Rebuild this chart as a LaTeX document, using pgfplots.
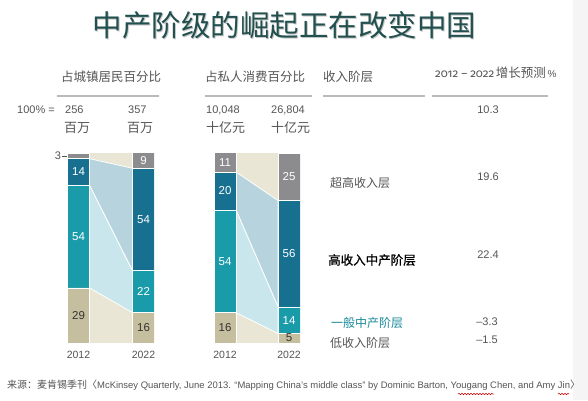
\documentclass[border=0pt]{standalone}
\usepackage{pgfplots}
\pgfplotsset{compat=1.18}
\usepackage{fontspec}
\setmainfont{Liberation Sans}
\newfontfamily\cjk{Noto Sans CJK SC}
\newfontfamily\cjkb[FakeBold=0.6]{Noto Sans CJK SC}
\newfontfamily\osf[Numbers=OldStyle]{Fira Sans}
\usetikzlibrary{decorations.pathmorphing}
\definecolor{caff}{HTML}{8C8C8E}
\definecolor{cupp}{HTML}{17708F}
\definecolor{cmid}{HTML}{1A9BAA}
\definecolor{clow}{HTML}{C6BF9F}
\definecolor{cbg}{HTML}{E9E6D6}
\definecolor{bupp}{HTML}{B7D3DE}
\definecolor{bmid}{HTML}{C9E6EC}
\definecolor{ctitle}{HTML}{22504F}
\definecolor{ctxt}{HTML}{555555}
\definecolor{crule}{HTML}{BBBBBB}
\definecolor{cteal}{HTML}{1A8A9A}
\newcommand\fs[1]{\fontsize{#1}{#1}\selectfont}
\pgfplotsset{
  panel/.style={anchor=south west, scale only axis, height=190pt, ymin=0, ymax=100,
    axis lines=none, enlargelimits=false, clip=true},
  wlab/.style={draw=none, mark=none, nodes near coords, point meta=explicit symbolic,
    every node near coord/.append style={anchor=center, font=\fs{11.5}, text=white}},
  klab/.style={draw=none, mark=none, nodes near coords, point meta=explicit symbolic,
    every node near coord/.append style={anchor=center, font=\fs{11.5}, text=black!80}},
}
\begin{document}
\begin{tikzpicture}[x=1pt,y=1pt]
\path[use as bounding box, fill=white] (0pt,0pt) rectangle (588pt,400pt);
\fill[black!4] (573pt,0pt) rectangle (588pt,400pt);

% ---------- left panel: backgrounds and bands
\begin{axis}[panel, at={(67pt,57pt)}, width=87pt, xmin=67, xmax=154]
\addplot[fill=cbg, draw=none] coordinates {(67,100)(154,100)} \closedcycle;
\addplot[fill=bupp, draw=white, line width=0.8pt] coordinates {(89.5,97)(132.5,92)(132.5,38)(89.5,83)(89.5,97)};
\addplot[fill=bmid, draw=white, line width=0.8pt] coordinates {(89.5,83)(132.5,38)(132.5,16)(89.5,29)(89.5,83)};
\end{axis}
% ---------- left panel: bars
\begin{axis}[panel, at={(67pt,57pt)}, width=87pt, xmin=67, xmax=154, ybar stacked, bar width=22pt]
\addplot[fill=clow, draw=white, line width=0.8pt] coordinates {(78.5,29)(143.5,16)};
\addplot[fill=cmid, draw=white, line width=0.8pt] coordinates {(78.5,54)(143.5,22)};
\addplot[fill=cupp, draw=white, line width=0.8pt] coordinates {(78.5,14)(143.5,54)};
\addplot[fill=caff, draw=white, line width=0.8pt] coordinates {(78.5,3)(143.5,9)};
\end{axis}
% ---------- left panel: segment labels
\begin{axis}[panel, at={(67pt,57pt)}, width=87pt, xmin=67, xmax=154]
\addplot[wlab] coordinates {(78.5,90)[14] (78.5,56)[54] (143.5,96)[9] (143.5,65)[54] (143.5,27)[22]};
\addplot[klab] coordinates {(78.5,14.5)[29] (143.5,8)[16]};
\end{axis}

% ---------- right panel: backgrounds and bands
\begin{axis}[panel, at={(214pt,57pt)}, width=86pt, xmin=214, xmax=300]
\addplot[fill=cbg, draw=none] coordinates {(214,100)(300,100)} \closedcycle;
\addplot[fill=bupp, draw=white, line width=0.8pt] coordinates {(236,90)(278,75)(278,19)(236,70)(236,90)};
\addplot[fill=bmid, draw=white, line width=0.8pt] coordinates {(236,70)(278,19)(278,5)(236,16)(236,70)};
\end{axis}
% ---------- right panel: bars
\begin{axis}[panel, at={(214pt,57pt)}, width=86pt, xmin=214, xmax=300, ybar stacked, bar width=22pt]
\addplot[fill=clow, draw=white, line width=0.8pt] coordinates {(225,16)(289,5)};
\addplot[fill=cmid, draw=white, line width=0.8pt] coordinates {(225,54)(289,14)};
\addplot[fill=cupp, draw=white, line width=0.8pt] coordinates {(225,20)(289,56)};
\addplot[fill=caff, draw=white, line width=0.8pt] coordinates {(225,11)(289,25)};
\end{axis}
% ---------- right panel: segment labels
\begin{axis}[panel, at={(214pt,57pt)}, width=86pt, xmin=214, xmax=300]
\addplot[wlab] coordinates {(225,95)[11] (225,80)[20] (225,43)[54] (289,87.5)[25] (289,47)[56] (289,12)[14]};
\addplot[klab] coordinates {(225,8)[16] (289,2.6)[5]};
\end{axis}

% ---------- title
\node[text=black!22, font=\cjk\fs{29.5}] at (285.5pt,374pt) {中产阶级的崛起正在改变中国};
\node[text=ctitle, font=\cjk\fs{29.5}] at (284.5pt,375pt) {中产阶级的崛起正在改变中国};

% ---------- column headers
\node[text=ctxt, font=\cjk\fs{12.5}] at (111pt,323pt) {占城镇居民百分比};
\node[text=ctxt, font=\cjk\fs{12.5}] at (255pt,323pt) {占私人消费百分比};
\node[text=ctxt, font=\cjk\fs{12.5}, anchor=west, inner sep=0pt] at (323pt,323pt) {收入阶层};
\node[text=ctxt, anchor=west, inner sep=0pt] at (435pt,327pt) {{\osf\fs{11.5}2012 – 2022}\,{\cjk\fs{12.5}增长预测}\,{\fs{10}\%}};
\draw[crule, line width=1.5pt] (57pt,304pt) -- (159pt,304pt);
\draw[crule, line width=1.5pt] (205pt,304pt) -- (312pt,304pt);
\draw[crule, line width=1.5pt] (323pt,304pt) -- (425pt,304pt);
\draw[crule, line width=1.5pt] (432pt,304pt) -- (548pt,304pt);

% ---------- totals
\node[text=ctxt, font=\fs{11}, anchor=east, inner sep=0pt] at (55pt,290pt) {100\% =};
\node[text=ctxt, font=\fs{11}, anchor=west, inner sep=0pt] at (65pt,290pt) {256};
\node[text=ctxt, font=\fs{11}, anchor=west, inner sep=0pt] at (128pt,290pt) {357};
\node[text=ctxt, font=\fs{11}, anchor=west, inner sep=0pt] at (206pt,290pt) {10,048};
\node[text=ctxt, font=\fs{11}, anchor=west, inner sep=0pt] at (271pt,290pt) {26,804};
\node[text=ctxt, font=\cjk\fs{13}, anchor=west, inner sep=0pt] at (64pt,272pt) {百万};
\node[text=ctxt, font=\cjk\fs{13}, anchor=west, inner sep=0pt] at (127pt,272pt) {百万};
\node[text=ctxt, font=\cjk\fs{13}, anchor=west, inner sep=0pt] at (206pt,272pt) {十亿元};
\node[text=ctxt, font=\cjk\fs{13}, anchor=west, inner sep=0pt] at (271pt,272pt) {十亿元};
\node[text=ctxt, font=\fs{11}] at (488pt,290pt) {10.3};

% ---------- segment names and growth
\node[text=ctxt, font=\cjk\fs{12}, anchor=west, inner sep=0pt] at (330pt,217pt) {超高收入层};
\node[text=ctxt, font=\fs{11}] at (488pt,223pt) {19.6};
\node[text=black, font=\cjkb\fs{12.5}, anchor=west, inner sep=0pt] at (328pt,140pt) {高收入中产阶层};
\node[text=ctxt, font=\fs{11}] at (488pt,145pt) {22.4};
\node[text=cteal, font=\cjk\fs{12}, anchor=west, inner sep=0pt] at (331pt,77pt) {一般中产阶层};
\node[text=ctxt, font=\fs{11}] at (487pt,78pt) {–3.3};
\node[text=ctxt, font=\cjk\fs{12}, anchor=west, inner sep=0pt] at (330pt,57pt) {低收入阶层};
\node[text=ctxt, font=\fs{11}] at (487pt,60pt) {–1.5};

% ---------- years and small label
\node[text=ctxt, font=\fs{10.5}] at (78.5pt,45pt) {2012};
\node[text=ctxt, font=\fs{10.5}] at (143.5pt,45pt) {2022};
\node[text=ctxt, font=\fs{10.5}] at (225pt,45pt) {2012};
\node[text=ctxt, font=\fs{10.5}] at (289pt,45pt) {2022};
\node[text=ctxt, font=\fs{11}] at (58pt,244pt) {3};
\draw[ctxt, line width=0.6pt] (62pt,244pt) -- (67pt,244pt);

% ---------- source
\node[text=ctxt, anchor=west, inner sep=0pt] at (7pt,15pt) {{\cjk\fs{10}来源：麦肯锡季刊〈}{\fs{9.45}McKinsey Quarterly, June 2013. “Mapping China’s middle class” by Dominic Barton, Yougang Chen, and Amy Jin}{\cjk\fs{10}〉}};
\draw[red!80!black, line width=0.5pt, decorate, decoration={snake, amplitude=0.8pt, segment length=3pt}] (458pt,6pt) -- (494pt,6pt);
\draw[red!80!black, line width=0.5pt, decorate, decoration={snake, amplitude=0.8pt, segment length=3pt}] (558pt,6pt) -- (569pt,6pt);
\end{tikzpicture}
\end{document}
